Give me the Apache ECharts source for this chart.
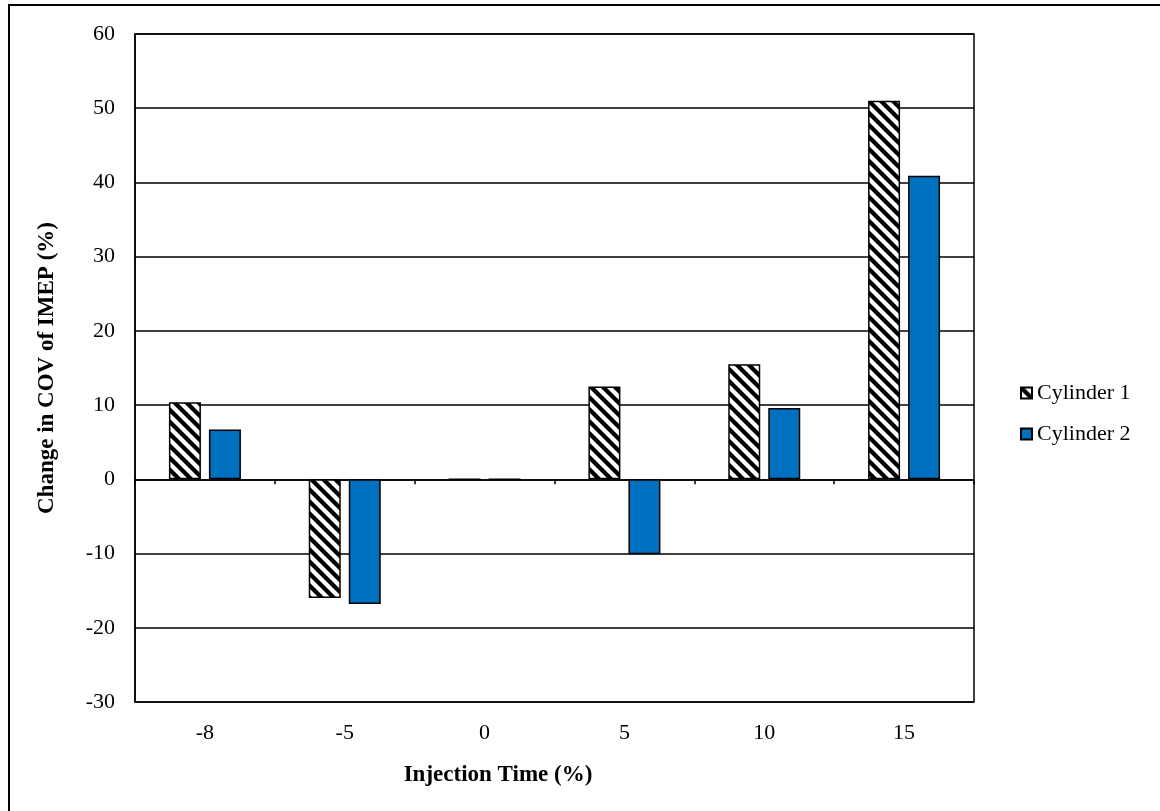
<!DOCTYPE html>
<html>
<head>
<meta charset="utf-8">
<script src="https://cdn.jsdelivr.net/npm/echarts@6/dist/echarts.min.js"></script>
<style>
    html, body { margin: 0; padding: 0; background: #fff; }
    #chart { width: 1160px; height: 811px; }
</style>
</head>
<body>
<div id="chart"></div>
<script>
var categories = ['-8', '-5', '0', '5', '10', '15'];
var cylinder1 = [10.4, -16.0, 0, 12.5, 15.5, 51.0];
var cylinder2 = [6.7, -16.8, 0, -10.1, 9.6, 40.9];
var seriesNames = ['Cylinder 1', 'Cylinder 2'];

// diagonal hatch for cylinder 1
function makeHatch() {
    var c = document.createElement('canvas');
    c.width = 12;
    c.height = 12;
    var ctx = c.getContext('2d');
    ctx.fillStyle = '#fff';
    ctx.fillRect(0, 0, 12, 12);
    ctx.strokeStyle = '#000';
    ctx.lineWidth = 4.2;
    [-12, 0, 12].forEach(function (off) {
        ctx.beginPath();
        ctx.moveTo(off - 2, -2);
        ctx.lineTo(off + 14, 14);
        ctx.stroke();
    });
    return c;
}

var font = '"Liberation Serif", "Times New Roman", serif';
var myChart = echarts.init(document.getElementById('chart'));
myChart.setOption({
    animation: false,
    textStyle: { fontFamily: font, color: '#000' },
    grid: {
        left: 135,
        top: 34,
        right: 186,
        bottom: 109,
        show: true,
        borderColor: '#000',
        borderWidth: 1.5
    },
    legend: {
        data: seriesNames,
        orient: 'vertical',
        left: 1015,
        top: 377,
        itemWidth: 11,
        itemHeight: 11,
        itemGap: 19,
        icon: 'rect',
        textStyle: { fontFamily: font, fontSize: 22, color: '#000' }
    },
    xAxis: [{
        type: 'category',
        data: categories,
        axisLine: { onZero: true, lineStyle: { color: '#000', width: 1.5 } },
        axisTick: { show: true, length: 5, lineStyle: { color: '#000', width: 1.5 } },
        axisLabel: { show: false },
        splitLine: { show: false }
    }, {
        type: 'category',
        data: categories,
        position: 'bottom',
        axisLine: { show: false, onZero: false },
        axisTick: { show: false },
        axisLabel: { margin: 20, fontSize: 22, color: '#000', fontFamily: font }
    }],
    yAxis: {
        type: 'value',
        min: -30,
        max: 60,
        interval: 10,
        axisLine: { show: true, lineStyle: { color: '#000', width: 1.5 } },
        axisTick: { show: false },
        axisLabel: { margin: 20, fontSize: 22, color: '#000', fontFamily: font },
        splitLine: { lineStyle: { color: '#000', width: 1.5 } }
    },
    graphic: [{
        type: 'rect',
        shape: { x: 9, y: 5, width: 1300, height: 1000 },
        style: { fill: null, stroke: '#000', lineWidth: 2 },
        silent: true
    }, {
        type: 'text',
        x: 498,
        y: 775,
        style: {
            text: 'Injection Time (%)',
            font: 'bold 23px ' + font,
            fill: '#000',
            align: 'center',
            verticalAlign: 'middle'
        }
    }, {
        type: 'text',
        x: 47,
        y: 368,
        rotation: Math.PI / 2,
        style: {
            text: 'Change in COV of IMEP (%)',
            font: 'bold 23px ' + font,
            fill: '#000',
            align: 'center',
            verticalAlign: 'middle'
        }
    }],
    series: [{
        name: seriesNames[0],
        type: 'bar',
        data: cylinder1,
        barWidth: 32,
        barGap: '25%',
        itemStyle: {
            color: { image: makeHatch(), repeat: 'repeat' },
            borderColor: '#000',
            borderWidth: 1.5
        }
    }, {
        name: seriesNames[1],
        type: 'bar',
        data: cylinder2,
        barWidth: 32,
        barGap: '25%',
        itemStyle: {
            color: '#0070C0',
            borderColor: '#000',
            borderWidth: 1.5
        }
    }]
});
</script>
</body>
</html>
